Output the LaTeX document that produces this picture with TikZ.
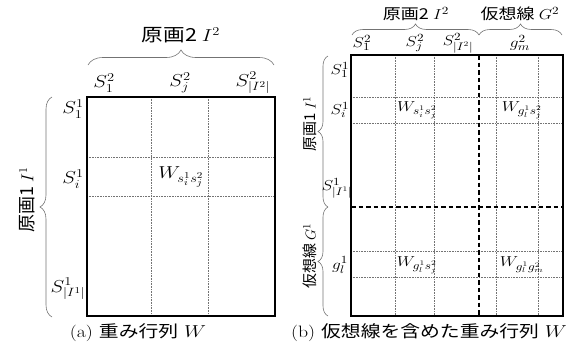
\documentclass[tikz,border=0pt]{standalone}
\usepackage{fontspec}
\usepackage{graphicx}
\newfontfamily\cjk{Noto Sans CJK JP}
\usetikzlibrary{decorations.pathreplacing}
\newcommand\hs[1]{\scalebox{1.2}[1]{#1}}
\begin{document}
\begin{tikzpicture}[x=1pt,y=-1pt,
  mbox/.style={line width=2.6pt},
  gridline/.style={line width=0.6pt, densely dotted, black!55},
  sepline/.style={line width=1.1pt, dash pattern=on 4.5pt off 3pt},
  brc/.style={decorate, decoration={brace, amplitude=#1}, black!55, line width=0.6pt},
  bigtxt/.style={font=\fontsize{18}{20}\selectfont, inner sep=0pt},
  smalltxt/.style={font=\fontsize{15}{17}\selectfont, inner sep=0pt},
  captxt/.style={font=\fontsize{16.5}{18}\selectfont, inner sep=0pt}]
\useasboundingbox (0,0) rectangle (579,354);
% ---------- left panel ----------
\draw[gridline] (151,97) -- (151,316) (208,97) -- (208,316);
\draw[gridline] (87,157) -- (275,157) (87,196) -- (275,196);
\draw[mbox] (87,97) rectangle (275,316);
\draw[brc=15] (88,65) -- (274,65);
\draw[brc=12] (52,317) -- (52,97);
\node[bigtxt] (ta) at (181,35) {\hs{\cjk 原画2 $I^2$}};
\node[bigtxt, rotate=90] (la) at (27,200) {\cjk 原画1\ $I^1$};
\node[bigtxt] (ac1) at (104,83) {\hs{$S^2_1$}};
\node[bigtxt] (ac2) at (180,83) {\hs{$S^2_j$}};
\node[bigtxt] (ac3) at (253,83) {\hs{$S^2_{|I^2|}$}};
\node[bigtxt] (ar1) at (73,109) {\hs{$S^1_1$}};
\node[bigtxt] (ar2) at (73,179) {\hs{$S^1_i$}};
\node[bigtxt] (ar3) at (68,289) {\hs{$S^1_{|I^1|}$}};
\node[bigtxt] (aw) at (181,177) {\hs{$W_{s_i^1 s_j^2}$}};
\node[captxt] (ca) at (138,333) {\hs{(a) {\cjk 重み行列} $W$}};
% ---------- right panel ----------
\draw[gridline] (395,55) -- (395,316) (434,55) -- (434,316)
                (496,55) -- (496,316) (538,55) -- (538,316);
\draw[gridline] (351,97) -- (563,97) (351,123) -- (563,123)
                (351,251) -- (563,251) (351,277) -- (563,277);
\draw[sepline] (479,55) -- (479,316);
\draw[sepline] (351,207) -- (563,207);
\draw[mbox] (351,55) rectangle (563,316);
\draw[brc=11] (352,35) -- (479,35);
\draw[brc=11] (479,35) -- (562,35);
\draw[brc=10] (328,207) -- (328,56);
\draw[brc=10] (328,316) -- (328,207);
\node[smalltxt] (tb1) at (416,14) {\hs{\cjk 原画2 $I^2$}};
\node[smalltxt] (tb2) at (520,14) {\hs{\cjk 仮想線 $G^2$}};
\node[smalltxt, rotate=90] (lb1) at (310,124) {\cjk 原画1\ $I^1$};
\node[smalltxt, rotate=90] (lb2) at (310,256) {\cjk 仮想線\ $G^1$};
\node[smalltxt] (bc1) at (362,43) {\hs{$S^2_1$}};
\node[smalltxt] (bc2) at (415,43) {\hs{$S^2_j$}};
\node[smalltxt] (bc3) at (458,43) {\hs{$S^2_{|I^2|}$}};
\node[smalltxt] (bc4) at (520,43) {\hs{$g^2_m$}};
\node[smalltxt] (br1) at (340,70) {\hs{$S^1_1$}};
\node[smalltxt] (br2) at (340,110) {\hs{$S^1_i$}};
\node[smalltxt] (br3) at (337,188) {\hs{$S^1_{|I^1|}$}};
\node[smalltxt] (br4) at (340,265) {\hs{$g^1_l$}};
\node[smalltxt] (bw1) at (417,110) {\hs{$W_{s_i^1 s_j^2}$}};
\node[smalltxt] (bw2) at (522,110) {\hs{$W_{g_l^1 s_j^2}$}};
\node[smalltxt] (bw3) at (417,265) {\hs{$W_{g_l^1 s_j^2}$}};
\node[smalltxt] (bw4) at (522,265) {\hs{$W_{g_l^1 g_m^2}$}};
\node[captxt] (cb) at (429,333) {\hs{(b) {\cjk 仮想線を含めた重み行列} $W$}};
\end{tikzpicture}
\end{document}
